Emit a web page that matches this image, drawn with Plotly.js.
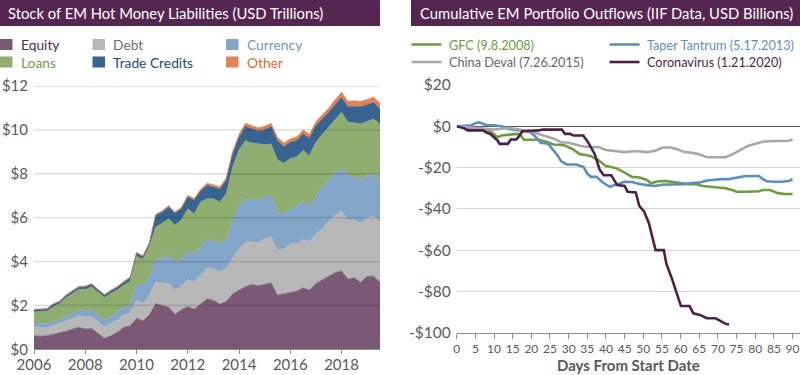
<!DOCTYPE html>
<html><head><meta charset="utf-8">
<script src="https://cdn.plot.ly/plotly-3.0.1.min.js"></script>
<style>html,body{margin:0;padding:0;background:#fff}#chart{width:800px;height:375px}</style>
</head><body><div id="chart"></div>
<script>
// ---------- Left chart: Stock of EM Hot Money Liabilities (USD trillions), quarterly ----------
const quarters = [2006,2006.25,2006.5,2006.75,2007,2007.25,2007.5,2007.75,2008,2008.25,2008.5,2008.75,2009,2009.25,2009.5,2009.75,2010,2010.25,2010.5,2010.75,2011,2011.25,2011.5,2011.75,2012,2012.25,2012.5,2012.75,2013,2013.25,2013.5,2013.75,2014,2014.25,2014.5,2014.75,2015,2015.25,2015.5,2015.75,2016,2016.25,2016.5,2016.75,2017,2017.25,2017.5,2017.75,2018,2018.25,2018.5,2018.75,2019,2019.25,2019.5];
const equity = [0.62,0.60,0.62,0.68, 0.73,0.82,0.92,1.00, 0.93,0.95,0.72,0.50, 0.62,0.78,1.00,1.06, 1.41,1.30,1.56,2.09, 2.00,1.93,1.60,1.80, 1.95,1.83,2.06,2.30, 2.24,2.06,2.18,2.53, 2.70,2.85,2.96,2.90, 2.96,3.03,2.47,2.53, 2.60,2.65,2.80,2.70, 3.00,3.15,3.33,3.50, 3.57,3.20,3.26,3.06, 3.33,3.33,3.06];
const debt = [0.38,0.38,0.36,0.40, 0.45,0.48,0.49,0.53, 0.55,0.55,0.53,0.53, 0.56,0.55,0.56,0.61, 0.83,0.79,0.91,0.97, 1.02,1.07,1.10,1.05, 1.23,1.23,1.30,1.40, 1.43,1.46,1.52,1.59, 1.88,2.03,1.96,1.96, 2.07,2.12,2.04,2.03, 2.22,2.17,2.20,2.19, 2.27,2.35,2.52,2.60, 2.72,2.68,2.64,2.67, 2.67,2.73,2.74];
const currency = [0.20,0.20,0.20,0.18, 0.15,0.20,0.25,0.29, 0.30,0.32,0.30,0.29, 0.32,0.37,0.36,0.36, 0.73,0.83,0.83,1.08, 1.12,1.29,1.28,1.29, 1.30,1.29,1.28,1.30, 1.33,1.28,1.27,1.78, 1.97,1.92,1.94,1.92, 1.91,1.85,1.75,1.62, 1.59,1.68,1.76,1.61, 1.73,1.89,1.90,1.90, 1.98,2.04,1.95,2.01, 1.92,1.91,1.93];
const loans = [0.51,0.54,0.55,0.68, 0.76,0.85,0.89,0.91, 0.95,1.03,1.05,1.04, 1.05,1.00,1.00,1.07, 1.27,1.18,1.40,1.43, 1.61,1.66,1.67,1.76, 1.93,1.83,2.07,1.86, 1.86,1.91,2.12,2.40, 2.55,2.71,2.54,2.57, 2.39,2.36,2.38,2.30, 2.29,2.27,2.30,2.33, 2.44,2.41,2.37,2.45, 2.53,2.43,2.48,2.53, 2.48,2.53,2.54];
const tradeCredits = [0.09,0.10,0.10,0.11, 0.08,0.10,0.11,0.10, 0.11,0.11,0.10,0.10, 0.11,0.12,0.13,0.15, 0.14,0.12,0.12,0.53, 0.50,0.53,0.55,0.50, 0.53,0.62,0.50,0.61, 0.54,0.59,0.61,0.60, 0.56,0.64,0.65,0.60, 0.67,0.79,0.87,0.76, 0.74,0.74,0.76,0.80, 0.76,0.70,0.68,0.70, 0.68,0.71,0.73,0.79, 0.75,0.75,0.68];
const other = [0.03,0.03,0.03,0.03, 0.03,0.04,0.04,0.04, 0.04,0.04,0.04,0.04, 0.04,0.05,0.05,0.05, 0.04,0.05,0.05,0.05, 0.06,0.07,0.06,0.07, 0.08,0.07,0.09,0.10, 0.10,0.10,0.12,0.12, 0.14,0.15,0.15,0.15, 0.16,0.15,0.15,0.16, 0.16,0.17,0.18,0.17, 0.18,0.20,0.20,0.23, 0.23,0.24,0.27,0.24, 0.23,0.25,0.26];
const leftYTicks = [0,2,4,6,8,10,12];
const leftYLabels = ['$0','$2','$4','$6','$8','$10','$12'];
const leftXTicks = [2006,2008,2010,2012,2014,2016,2018];
const leftXLabels = ['2006','2008','2010','2012','2014','2016','2018'];

// ---------- Right chart: Cumulative EM portfolio outflows (USD billions) ----------
const gfcDays = [0,2,4,6,8,9,10,11,12,14,16,17,18,20,22,24,26,28,29,31,33,35,36,38,40,42,43,45,47,49,51,52,54,56,58,60,62,64,66,68,70,72,74,75,78,80,81,82,84,86,88,90];
const gfcVals = [0,-0.5,-1,-1,-1.5,-2.5,-4,-5.3,-4.5,-4,-3.7,-4,-6.5,-6.5,-6.5,-7.5,-8.8,-9,-9.3,-11,-13.5,-14,-14.5,-16.5,-19.3,-20,-20.5,-22.5,-24.5,-24.8,-26,-27.6,-26.6,-26.5,-26.9,-27.5,-28.1,-28.1,-28.9,-29.3,-29.7,-30,-31,-31.7,-31.7,-31.8,-31.5,-30.9,-30.9,-32.4,-32.8,-32.8];
const taperDays = [0,2,4,5,6,7,8,10,12,14,16,18,19.5,21,22.5,24.5,26,27,28,29.5,32,34,35,36,37.5,39,41,42.5,45,47,49,51,53,55,57,59,61,63,65,67,69,71,73,75,77,79,81,82,83,85,87,89,90];
const taperVals = [0,0.2,0.5,1.5,1.9,1.2,0.6,0.5,0,-1.3,-1.8,-2.2,-2.6,-4.8,-8,-8.5,-11.5,-14,-17,-18.5,-18.5,-19.7,-22.9,-24.5,-24.5,-27,-29.3,-28.5,-26.9,-27,-28,-28.5,-28.9,-28.3,-28.3,-28,-28,-27.5,-27.3,-26.3,-25.8,-25.6,-25.6,-25,-24.2,-24.1,-24.1,-25.5,-26.6,-26.9,-26.9,-26.5,-25.6];
const chinaDays = [0,3,5,8,10,12,14,16,18,20,22,24,26,28,30,32,34,36,38,40,42,45,48,51,53,55,57,59,61,63,65,67,69,72,74,76,78,80,82,84,86,88,89,90];
const chinaVals = [0,-0.5,-1,-1.3,-1.6,-1.2,-0.8,-1.3,-1.8,-2.5,-3.7,-4.8,-6,-7.7,-8,-9,-9.8,-10,-10.1,-11.5,-12,-12.5,-12,-12.5,-12,-10.4,-10.2,-11,-12.5,-12.8,-13.6,-15,-15,-15,-13.5,-11.5,-9.5,-8.5,-7.5,-7.2,-7,-6.8,-7,-6.4];
const covidDays = [0,1,2,3,7,8,9,10,11,11.5,13.7,14.5,16,16.7,17.6,22,23,28.2,29,30.4,31.3,33.9,35.2,37,38.3,39.4,41.4,43,45,45.8,48,48.9,50.2,51.5,52.3,53.3,55.5,56.2,57.7,59,60.1,62.4,63.4,65.2,67,69.4,70.9,72.2,73];
const covidVals = [0,-0.5,-1,-2,-2,-3,-3.7,-5.3,-7,-8.5,-8.5,-6.4,-6.4,-4.8,-2.4,-2,-1.6,-1.6,-3.7,-3.7,-4.5,-4.5,-7.7,-13.5,-21,-23.7,-23.7,-28.5,-28.9,-31.7,-32.1,-38.5,-41.2,-46.8,-52.3,-60,-60,-66.7,-73.9,-81,-87.1,-87.1,-90.6,-91.4,-93,-93,-94.6,-95.8,-96];
const rightYTicks = [-100,-80,-60,-40,-20,0,20];
const rightYLabels = ['-$100','-$80','-$60','-$40','-$20','$0','$20'];
const rightXTicks = [0,5,10,15,20,25,30,35,40,45,50,55,60,65,70,75,80,85,90];

const F = "Lato, 'Liberation Sans', sans-serif";
const TICK = '#595959';
const PLUM = '#55264f';

const areaSeries = [
  {name:'Equity', y:equity, fill:'#7a5876'},
  {name:'Debt', y:debt, fill:'#b7b7b7'},
  {name:'Currency', y:currency, fill:'#82a5c8'},
  {name:'Loans', y:loans, fill:'#8fad6f'},
  {name:'Trade Credits', y:tradeCredits, fill:'#386492'},
  {name:'Other', y:other, fill:'#e08458'}
];
const traces = areaSeries.map(s => ({
  type:'scatter', mode:'lines', x:quarters, y:s.y, name:s.name,
  stackgroup:'hot', fillcolor:s.fill, line:{width:0.6, color:s.fill},
  xaxis:'x', yaxis:'y', showlegend:false, hoverinfo:'skip'
}));
const lineSeries = [
  {name:'GFC (9.8.2008)', x:gfcDays, y:gfcVals, c:'#6f9e3f'},
  {name:'Taper Tantrum (5.17.2013)', x:taperDays, y:taperVals, c:'#5b8fc3'},
  {name:'China Deval (7.26.2015)', x:chinaDays, y:chinaVals, c:'#a8a8a8'},
  {name:'Coronavirus (1.21.2020)', x:covidDays, y:covidVals, c:'#4e1f49'}
];
lineSeries.forEach(s => traces.push({
  type:'scatter', mode:'lines', x:s.x, y:s.y, name:s.name,
  line:{color:s.c, width:2.6}, xaxis:'x2', yaxis:'y2', showlegend:false, hoverinfo:'skip'
}));

const W = 800, H = 375;
const px = x => x / W, py = y => 1 - y / H;

const shapes = [
  {type:'rect', xref:'paper', yref:'paper', x0:px(0), x1:px(380), y0:py(26), y1:py(0), fillcolor:PLUM, line:{width:0}, layer:'below'},
  {type:'rect', xref:'paper', yref:'paper', x0:px(411), x1:px(800), y0:py(26), y1:py(0), fillcolor:PLUM, line:{width:0}, layer:'below'}
];
// left gridlines drawn over the areas (as in the reference)
leftYTicks.filter(v => v > 0).forEach(v => shapes.push({
  type:'line', xref:'x domain', yref:'y', x0:0, x1:1, y0:v, y1:v,
  line:{color:'rgba(0,0,0,0.14)', width:1.3}, layer:'above'
}));

const annotations = [
  {text:'Stock of EM Hot Money Liabilities (USD Trillions)', xref:'paper', yref:'paper', x:px(6), y:py(13), xanchor:'left', yanchor:'middle', showarrow:false, font:{family:F, size:14.8, color:'#ffffff'}},
  {text:'Cumulative EM Portfolio Outflows (IIF Data, USD Billions)', xref:'paper', yref:'paper', x:px(418), y:py(13), xanchor:'left', yanchor:'middle', showarrow:false, font:{family:F, size:14.8, color:'#ffffff'}}
];

// left legend (swatches + coloured labels)
const leftLegend = [
  {name:'Equity', sw:'#7a5876', tc:'#55264f', x:0, y:44.5},
  {name:'Debt', sw:'#b7b7b7', tc:'#6f6f6f', x:92.5, y:44.5},
  {name:'Currency', sw:'#82a5c8', tc:'#6f97c2', x:226, y:44.5},
  {name:'Loans', sw:'#8fad6f', tc:'#6f9a4a', x:0, y:62},
  {name:'Trade Credits', sw:'#386492', tc:'#21497a', x:92.5, y:62},
  {name:'Other', sw:'#e08458', tc:'#dc6a30', x:226, y:62}
];
leftLegend.forEach(l => {
  shapes.push({type:'rect', xref:'paper', yref:'paper', x0:px(l.x), x1:px(l.x+12.5), y0:py(l.y+5.5), y1:py(l.y-5.5), fillcolor:l.sw, line:{width:0}});
  annotations.push({text:l.name, xref:'paper', yref:'paper', x:px(l.x+18.5), y:py(l.y), xanchor:'left', yanchor:'middle', showarrow:false, font:{family:F, size:13.8, color:l.tc}});
});
// right legend (line swatches + coloured labels)
const rightLegend = [
  {name:lineSeries[0].name, c:'#6f9e3f', tc:'#6a9a3a', x:411.5, y:44.5},
  {name:lineSeries[1].name, c:'#5b8fc3', tc:'#5b8fc3', x:609.5, y:44.5},
  {name:lineSeries[2].name, c:'#a8a8a8', tc:'#666666', x:411.5, y:62},
  {name:lineSeries[3].name, c:'#4e1f49', tc:'#4e1f49', x:609.5, y:62}
];
rightLegend.forEach(l => {
  shapes.push({type:'line', xref:'paper', yref:'paper', x0:px(l.x), x1:px(l.x+30), y0:py(l.y), y1:py(l.y), line:{color:l.c, width:2.6}});
  annotations.push({text:l.name, xref:'paper', yref:'paper', x:px(l.x+35.5), y:py(l.y), xanchor:'left', yanchor:'middle', showarrow:false, font:{family:F, size:12.7, color:l.tc}});
});

const layout = {
  width:W, height:H, margin:{l:0, r:0, t:0, b:0},
  paper_bgcolor:'#ffffff', plot_bgcolor:'rgba(0,0,0,0)', showlegend:false,
  font:{family:F, color:TICK},
  xaxis:{domain:[px(34), px(380)], range:[2006, 2019.5], tickmode:'array', tickvals:leftXTicks, ticktext:leftXLabels,
    ticks:'outside', ticklen:4, tickcolor:'#8c8c8c', showline:true, linecolor:'#8c8c8c', linewidth:1,
    showgrid:false, zeroline:false, tickfont:{family:F, size:15, color:TICK}, tickangle:0, ticklabelstandoff:-2, fixedrange:true},
  yaxis:{domain:[py(349.3), py(86)], range:[0, 12], tickmode:'array', tickvals:leftYTicks, ticktext:leftYLabels,
    showgrid:false, zeroline:false, ticks:'', tickfont:{family:F, size:15, color:TICK}, ticklabelstandoff:5, fixedrange:true},
  xaxis2:{anchor:'y2', domain:[px(456.7), 1], range:[0, 92], tickmode:'array', tickvals:rightXTicks,
    ticks:'outside', ticklen:5, tickcolor:'#8c8c8c', showline:true, linecolor:'#8c8c8c', linewidth:1,
    showgrid:false, zeroline:false, tickfont:{family:F, size:12, color:TICK}, tickangle:0,
    title:{text:'<b>Days From Start Date</b>', font:{family:F, size:15, color:TICK}, standoff:4}, fixedrange:true},
  yaxis2:{anchor:'x2', domain:[py(332.7), py(85)], range:[-100, 20], tickmode:'array', tickvals:rightYTicks, ticktext:rightYLabels,
    showgrid:true, gridcolor:'#d4d4d4', gridwidth:1, zeroline:true, zerolinecolor:'#555555', zerolinewidth:1,
    ticks:'', tickfont:{family:F, size:15.5, color:TICK}, ticklabelstandoff:5, fixedrange:true},
  shapes:shapes, annotations:annotations
};

Plotly.newPlot('chart', traces, layout, {displayModeBar:false, staticPlot:true});
</script></body></html>
